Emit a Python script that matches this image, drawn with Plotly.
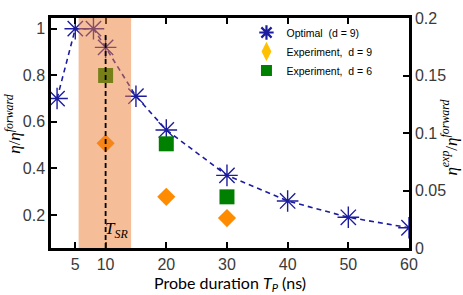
import plotly.graph_objects as go

# ---- data ----
T_opt = [2, 5, 8, 10, 15, 20, 30, 40, 50, 60]
eff_opt = [0.70, 1.00, 1.00, 0.92, 0.71, 0.565, 0.37, 0.26, 0.19, 0.145]

T_exp = [10, 20, 30]
eff_exp_d9 = [0.091, 0.0445, 0.026]
eff_exp_d6 = [0.150, 0.0906, 0.0445]

x_ticks = [5, 10, 20, 30, 40, 50, 60]
y_left_ticks = [0.2, 0.4, 0.6, 0.8, 1.0]
y_left_labels = ["0.2", "0.4", "0.6", "0.8", "1"]
y_right_ticks = [0, 0.05, 0.1, 0.15, 0.2]
y_right_labels = ["0", "0.05", "0.1", "0.15", "0.2"]

T_SR = 10
shade_range = [5.55, 14.2]

NAVY = "#1c1c9e"
TICKFONT = dict(family="Liberation Sans, Arial, sans-serif", size=16, color="#3a3a3a")

fig = go.Figure()

fig.add_trace(go.Scatter(
    x=T_opt, y=eff_opt, mode="lines+markers", name="Optimal  (d = 9)",
    line=dict(color=NAVY, width=1.6, dash="5px,4px"),
    marker=dict(symbol="asterisk-open", size=18, color=NAVY, line=dict(color=NAVY, width=1.4)),
    yaxis="y", showlegend=False,
))
fig.add_trace(go.Scatter(
    x=T_exp, y=eff_exp_d9, mode="markers", name="Experiment, d = 9",
    marker=dict(symbol="diamond", size=14, color="#FF8C00"),
    yaxis="y2", showlegend=False,
))
fig.add_trace(go.Scatter(
    x=T_exp, y=eff_exp_d6, mode="markers", name="Experiment, d = 6",
    marker=dict(symbol="square", size=15, color="#008000"),
    yaxis="y2", showlegend=False,
))

# legend entries
fig.add_trace(go.Scatter(x=[None], y=[None], mode="markers", name="Optimal  (d = 9)",
                         marker=dict(symbol="asterisk-open", size=12, color=NAVY,
                                     line=dict(color=NAVY, width=2.2))))
fig.add_trace(go.Scatter(x=[None], y=[None], mode="markers", name="Experiment,  d = 9",
                         marker=dict(symbol="diamond-tall", size=14, color="#FFC000")))
fig.add_trace(go.Scatter(x=[None], y=[None], mode="markers", name="Experiment,  d = 6",
                         marker=dict(symbol="square", size=11, color="#008000")))

fig.add_shape(type="rect", xref="x", yref="paper", x0=shade_range[0], x1=shade_range[1],
              y0=0, y1=1, fillcolor="#ED7D31", opacity=0.5, line=dict(width=0), layer="above")
fig.add_shape(type="line", xref="x", yref="y", x0=T_SR, x1=T_SR, y0=0.058, y1=0.985,
              line=dict(color="black", width=1.8, dash="5px,3px"), layer="above")

fig.add_annotation(x=T_SR, y=0.135, xref="x", yref="y", xanchor="left", yanchor="middle",
                   xshift=-3, showarrow=False,
                   text="<i>T</i><sub><i>SR</i></sub>",
                   font=dict(family="Liberation Serif, serif", size=17, color="black"))

fig.add_annotation(x=0, y=0.54, xref="paper", yref="paper", xshift=-38, showarrow=False,
                   textangle=-90, xanchor="center", yanchor="middle",
                   text="<i>η</i>/<i>η</i><sup><i>forward</i></sup>",
                   font=dict(family="Liberation Serif, serif", size=17, color="black"))
fig.add_annotation(x=1, y=0.48, xref="paper", yref="paper", xshift=40, showarrow=False,
                   textangle=-90, xanchor="center", yanchor="middle",
                   text="<i>η</i><sup><i>exp</i></sup>/<i>η</i><sup><i>forward</i></sup>",
                   font=dict(family="Liberation Serif, serif", size=17, color="black"))

fig.update_layout(
    width=463, height=295,
    margin=dict(l=51, r=54, t=10, b=47),
    paper_bgcolor="white", plot_bgcolor="white",
    showlegend=True,
    legend=dict(x=0.546, y=1.0, xanchor="left", yanchor="top",
                bgcolor="rgba(0,0,0,0)", borderwidth=0,
                font=dict(family="Liberation Sans, Arial, sans-serif", size=10.5, color="black"),
                tracegroupgap=0, itemwidth=30),
    xaxis=dict(range=[1, 60], tickvals=x_ticks, ticks="inside", ticklen=6, tickwidth=2,
               tickcolor="black", showline=True, linecolor="black", linewidth=2.5,
               mirror="ticks", showgrid=False, zeroline=False, tickfont=TICKFONT,
               title=dict(text="Probe duration <i>T<sub>P</sub></i> (ns)",
                          font=dict(family="Lato, sans-serif", size=16, color="black"),
                          standoff=1)),
    yaxis=dict(range=[0.058, 1.046], tickvals=y_left_ticks, ticktext=y_left_labels,
               ticks="inside", ticklen=6, tickwidth=2, tickcolor="black",
               showline=True, linecolor="black", linewidth=2.5, showgrid=False,
               zeroline=False, tickfont=TICKFONT),
    yaxis2=dict(range=[0, 0.2], tickvals=y_right_ticks, ticktext=y_right_labels,
                overlaying="y", side="right", ticks="inside", ticklen=6, tickwidth=2,
                tickcolor="black", showline=True, linecolor="black", linewidth=2.5,
                showgrid=False, zeroline=False, tickfont=TICKFONT),
)

fig.write_html("out.html", config={"displayModeBar": False},
               post_script="document.body.style.margin='0';document.body.style.overflow='hidden';")
